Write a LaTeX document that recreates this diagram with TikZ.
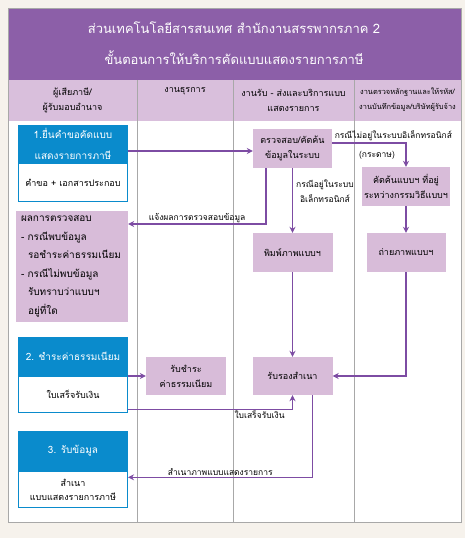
\documentclass[tikz,border=0pt]{standalone}
\usepackage{fontspec}
\newfontfamily\thai[Script=Thai]{Loma}
\usetikzlibrary{arrows.meta,positioning}
\definecolor{bgcream}{HTML}{F6F2EC}
\definecolor{ttlpurple}{HTML}{8C5FA8}
\definecolor{hdrlilac}{HTML}{D9BFDC}
\definecolor{boxlilac}{HTML}{D8BCD9}
\definecolor{stepblue}{HTML}{0A8BCC}
\definecolor{flowpurple}{HTML}{7D4CA3}
\definecolor{lanegray}{HTML}{A8A8A8}

\begin{document}
\begin{tikzpicture}[x=1pt, y=-1pt,
  font=\thai\fontsize{9}{15}\selectfont,
  lane/.style={draw=lanegray, line width=0.8pt},
  hdrtxt/.style={align=center, inner sep=0pt},
  stephd/.style={fill=stepblue, text=white, minimum width=110pt, align=center, inner sep=0pt, font=\thai\fontsize{10}{21}\selectfont},
  stepbd/.style={draw=stepblue, line width=1.2pt, fill=white, minimum width=108.8pt, align=center, inner sep=0pt},
  task/.style={fill=boxlilac, minimum width=80pt, minimum height=39pt, align=center, inner sep=2pt},
  flow/.style={-{Stealth[length=6pt,width=6pt]}, draw=flowpurple, line width=1.1pt},
  lbl/.style={inner sep=1pt, font=\thai\fontsize{8.5}{15}\selectfont}
]
% --- page and frame ---
\fill[bgcream] (0,0) rectangle (465,538);
\fill[white] (8,80) rectangle (461,522);
\fill[ttlpurple] (8,8) rectangle (461,80);
\fill[hdrlilac] (8,80) rectangle (461,121);
\draw[lanegray, line width=0.8pt] (8,8) rectangle (461,522);
\foreach \lx in {137,233,354}
  \draw[lane] (\lx,80) -- (\lx,522);

% --- title ---
\node[text=white, font=\thai\fontsize{13}{15}\selectfont] (ttl1) at (234,28) {ส่วนเทคโนโลยีสารสนเทศ สำนักงานสรรพากรภาค 2};
\node[text=white, font=\thai\fontsize{13}{15}\selectfont] (ttl2) at (234,58) {ขั้นตอนการให้บริการคัดแบบแสดงรายการภาษี};

% --- lane headers ---
\node[hdrtxt] (lane_tax) at (72.5,100) {ผู้เสียภาษี/\\ผู้รับมอบอำนาจ};
\node[hdrtxt, anchor=center] (lane_adm) at (185,91) {งานธุรการ};
\node[hdrtxt] (lane_srv) at (293.5,100) {งานรับ - ส่งและบริการแบบ\\แสดงรายการ};
\node[hdrtxt, font=\thai\fontsize{7.4}{15}\selectfont] (lane_rec) at (407.5,100) {งานตรวจหลักฐานและให้รหัส/\\งานบันทึกข้อมูล/บริษัทผู้รับจ้าง};

% --- taxpayer lane ---
% step 1
\node[stephd, minimum height=38pt] (req_h) at (73,144) {1.ยื่นคำขอคัดแบบ\\แสดงรายการภาษี};
\node[stepbd, below=0pt of req_h, minimum height=38pt] (req_b) {คำขอ + เอกสารประกอบ};
% result of check
\node[fill=boxlilac, minimum width=112pt, minimum height=111pt, align=left, text width=102pt, inner sep=5pt,
      font=\thai\fontsize{10}{18.5}\selectfont] (res) at (72,266.5)
  {ผลการตรวจสอบ\\- กรณีพบข้อมูล\\\hspace*{7pt}รอชำระค่าธรรมเนียม\\- กรณีไม่พบข้อมูล\\\hspace*{7pt}รับทราบว่าแบบฯ\\\hspace*{7pt}อยู่ที่ใด};
% step 2
\node[stephd, minimum height=39pt] (pay_h) at (73,356.5) {2. ชำระค่าธรรมเนียม};
\node[stepbd, below=0pt of pay_h, minimum height=36pt] (pay_b) {ใบเสร็จรับเงิน};
% step 3
\node[stephd, minimum height=40pt] (get_h) at (73,451) {3. รับข้อมูล};
\node[stepbd, below=0pt of get_h, minimum height=36pt] (get_b) {สำเนา\\[-1pt]แบบแสดงรายการภาษี};

% --- admin lane ---
\node[task, minimum height=38pt] (fee) at (186,376) {รับชำระ\\ค่าธรรมเนียม};

% --- service lane ---
\node[task, minimum width=79pt] (chk) at (292.5,148.5) {ตรวจสอบ/คัดค้น\\ข้อมูลในระบบ};
\node[task] (prn) at (292.5,252.5) {พิมพ์ภาพแบบฯ};
\node[task, minimum height=38pt] (cert) at (292.5,376) {รับรองสำเนา};

% --- records lane ---
\node[task, minimum width=85pt] (srch) at (406,186.5) {คัดค้นแบบฯ ที่อยู่\\ระหว่างกรรมวิธีแบบฯ};
\node[task, minimum width=79pt] (cpy) at (406,252.5) {ถ่ายภาพแบบฯ};

% --- flows ---
\draw[flow] ([yshift=-7pt]req_h.east) -- ([yshift=-7pt]req_h.east -| chk.west);
\draw[flow] ([yshift=5.5pt]chk.east) -| (srch.north)
  node[lbl, pos=0, anchor=south west, xshift=1pt, yshift=0.5pt] {กรณีไม่อยู่ในระบบอิเล็กทรอนิกส์};
\node[lbl] (paper) at (377,155) {(กระดาษ)};
\draw[flow] ([xshift=-26.5pt]chk.south) |- ([yshift=42.5pt]res.east)
  node[lbl, pos=0.75, above] {แจ้งผลการตรวจสอบข้อมูล};
\draw[flow] (chk.south) -- (prn.north);
\node[lbl, align=center] (elec) at (325,191.5) {กรณีอยู่ในระบบ\\อิเล็กทรอนิกส์};
\draw[flow] (srch.south) -- (cpy.north);
\draw[flow] (cpy.south) |- (cert.east);
\draw[flow] (prn.south) -- (cert.north);
\draw[flow] (pay_h.east |- fee.west) -- (fee.west);
\draw[flow] ([yshift=-14.5pt]pay_b.east) -| (cert.south)
  node[lbl, pos=0.4, below] {ใบเสร็จรับเงิน};
\draw[flow] ([xshift=20pt]cert.south) |- ([yshift=12.5pt]get_b.east)
  node[lbl, pos=0.75, above] {สำเนาภาพแบบแสดงรายการ};
\end{tikzpicture}
\end{document}
